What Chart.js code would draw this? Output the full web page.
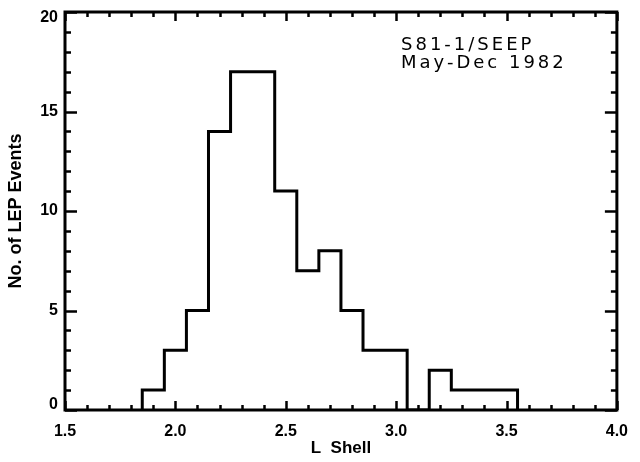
<!DOCTYPE html>
<html>
<head>
<meta charset="utf-8">
<script src="https://cdn.jsdelivr.net/npm/chart.js@4.4.0/dist/chart.umd.min.js"></script>
<style>
  html, body { margin: 0; padding: 0; background: #fff; }
  #wrap { width: 640px; height: 462px; }
</style>
</head>
<body>
<div id="wrap"><canvas id="lepChart"></canvas></div>
<script>
// histogram bins (L shell) and number of LEP events per bin
const binEdges = [1.85, 1.95, 2.05, 2.15, 2.25, 2.35, 2.45, 2.55, 2.65, 2.75, 2.85, 2.95, 3.05, 3.15, 3.25, 3.35, 3.45, 3.55];
const eventCounts = [1, 3, 5, 14, 17, 17, 11, 7, 8, 5, 3, 3, 0, 2, 1, 1, 1];
const xTickLabels = ['1.5', '2.0', '2.5', '3.0', '3.5', '4.0'];
const yTickLabels = ['0', '5', '10', '15', '20'];
const noteLines = ['S81-1/SEEP', 'May-Dec 1982'];

const xMajor = xTickLabels.map(Number);
const yMajor = yTickLabels.map(Number);
const near = (a, b) => Math.abs(a - b) < 1e-6;

// outline of the histogram as a stepped line: rise at each left edge, hold to the right edge
const outline = [{ x: binEdges[0], y: 0 }];
eventCounts.forEach((c, i) => outline.push({ x: binEdges[i + 1], y: c }));
outline.push({ x: binEdges[binEdges.length - 1], y: 0 });

const sans = '"Liberation Sans", Arial, sans-serif';
const labelFont = 'bold 16px ' + sans;

// inward tick marks, frame, y labels and the note in the corner
const framePlugin = {
    id: 'frame',
    afterDraw(chart) {
        const { ctx, chartArea: a, scales: { x, y } } = chart;
        ctx.save();
        ctx.strokeStyle = '#000';
        ctx.lineCap = 'butt';
        ctx.lineWidth = 2.5;
        ctx.beginPath();
        x.ticks.forEach(t => {
            const px = Math.round(x.getPixelForValue(t.value)) + 0.5;
            const len = xMajor.some(v => near(v, t.value)) ? 9 : 5;
            ctx.moveTo(px, a.bottom); ctx.lineTo(px, a.bottom - len);
            ctx.moveTo(px, a.top); ctx.lineTo(px, a.top + len);
        });
        y.ticks.forEach(t => {
            const py = Math.round(y.getPixelForValue(t.value)) + 0.5;
            const len = yMajor.some(v => near(v, t.value)) ? 12 : 6;
            ctx.moveTo(a.left, py); ctx.lineTo(a.left + len, py);
            ctx.moveTo(a.right, py); ctx.lineTo(a.right - len, py);
        });
        ctx.stroke();

        ctx.lineWidth = 3;
        ctx.lineJoin = 'miter';
        ctx.strokeRect(a.left, a.top, a.right - a.left, a.bottom - a.top);

        // y labels, end labels kept inside the axis span
        ctx.fillStyle = '#000';
        ctx.font = labelFont;
        ctx.textAlign = 'right';
        ctx.textBaseline = 'middle';
        yTickLabels.forEach((lab, i) => {
            let py = y.getPixelForValue(yMajor[i]);
            py = Math.min(Math.max(py, a.top + 6), a.bottom - 5);
            ctx.fillText(lab, a.left - 7, py);
        });

        ctx.font = '18px "DejaVu Sans", sans-serif';
        ctx.letterSpacing = '3px';
        ctx.textAlign = 'left';
        ctx.textBaseline = 'alphabetic';
        noteLines.forEach((line, i) => ctx.fillText(line, 401, 50 + i * 18));
        ctx.restore();
    }
};

new Chart(document.getElementById('lepChart'), {
    type: 'line',
    data: {
        datasets: [{
            data: outline,
            stepped: 'after',
            borderColor: '#000',
            borderWidth: 3,
            borderJoinStyle: 'miter',
            pointRadius: 0,
            fill: false
        }]
    },
    options: {
        responsive: true,
        maintainAspectRatio: false,
        animation: false,
        layout: { padding: { top: 12, right: 15, left: 0, bottom: 0 } },
        plugins: { legend: { display: false }, tooltip: { enabled: false } },
        scales: {
            x: {
                type: 'linear',
                min: 1.5,
                max: 4.0,
                grid: { display: false, drawTicks: false },
                border: { display: false },
                ticks: {
                    stepSize: 0.1,
                    autoSkip: false,
                    maxRotation: 0,
                    padding: 12,
                    color: '#000',
                    font: { family: sans, size: 16, weight: 'bold' },
                    callback: v => {
                        const i = xMajor.findIndex(m => near(m, v));
                        return i >= 0 ? xTickLabels[i] : '';
                    }
                },
                title: {
                    display: true,
                    text: 'L  Shell',
                    color: '#000',
                    font: { family: sans, size: 17, weight: 'bold' },
                    padding: { top: 0, bottom: 3 }
                },
                afterFit: s => { s.height = 52; }
            },
            y: {
                min: 0,
                max: 20,
                grid: { display: false, drawTicks: false },
                border: { display: false },
                ticks: { stepSize: 1, display: false },
                title: {
                    display: true,
                    text: 'No. of LEP Events',
                    color: '#000',
                    font: { family: sans, size: 18, weight: 'bold' },
                    padding: { top: 5, bottom: 0 }
                },
                afterFit: s => { s.width = 65; }
            }
        }
    },
    plugins: [framePlugin]
});
</script>
</body>
</html>
